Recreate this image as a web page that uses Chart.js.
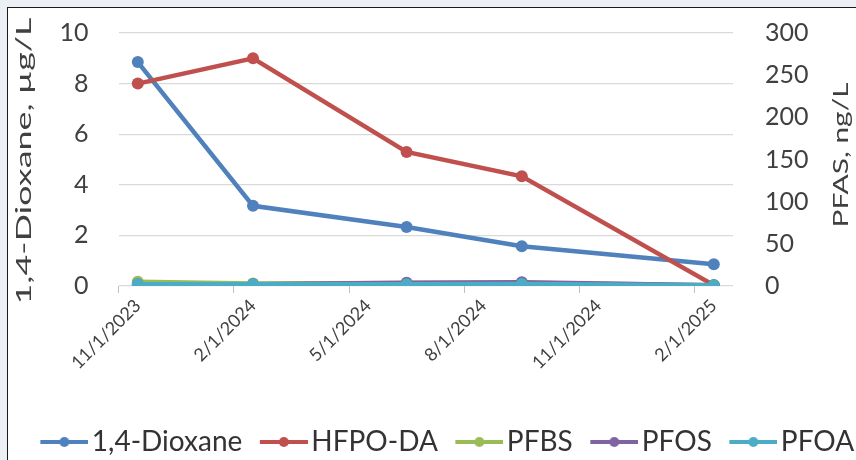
<!DOCTYPE html>
<html>
<head>
<meta charset="utf-8">
<script src="https://cdn.jsdelivr.net/npm/chart.js@4.4.1/dist/chart.umd.min.js"></script>
<style>
  html, body { margin: 0; padding: 0; width: 856px; height: 460px; overflow: hidden; background: #eceff3; }
  #frame { position: absolute; left: 7px; top: 7px; width: 900px; height: 500px; background: #fff; border: 1px solid #1a1a1a; }
  #c { position: absolute; left: 0; top: -14px; }
</style>
</head>
<body>
<div id="frame"></div>
<canvas id="c" width="887" height="480"></canvas>
<script>
// sampling dates (first of month, as the chart's month axis shows them)
const sampleDates = ['11/1/2023', '2/1/2024', '6/1/2024', '9/1/2024', '2/1/2025'];

// 1,4-Dioxane in ug/L (left axis)
const dioxane = [8.85, 3.17, 2.33, 1.57, 0.86];
// PFAS in ng/L (right axis)
const hfpoDa = [240, 270, 159, 130, 1];
const pfbs = [5, 3, 3.5, 4, 1];
const pfos = [2, 2, 4, 4.5, 1];
const pfoa = [2, 2, 2, 2.5, 1];

const tickLabels = ['11/1/2023', '2/1/2024', '5/1/2024', '8/1/2024', '11/1/2024', '2/1/2025'];
const leftTitle = '1,4-Dioxane, µg/L';
const rightTitle = 'PFAS, ng/L';

// month axis, Nov 2023 .. Feb 2025
const months = [];
for (let y = 2023, m = 10; y < 2025 || m <= 1; m++) {
    if (m === 12) { m = 0; y++; }
    if (y === 2025 && m > 1) break;
    months.push((m + 1) + '/1/' + y);
}

const colors = ['#4F81BD', '#C0504D', '#9BBB59', '#8064A2', '#4BACC6'];
const names = ['1,4-Dioxane', 'HFPO-DA', 'PFBS', 'PFOS', 'PFOA'];
const values = [dioxane, hfpoDa, pfbs, pfos, pfoa];

// canvas sits 14px above the window
const shift = 14;

function legendMarker(color) {
    const c = document.createElement('canvas');
    c.width = 66; c.height = 14;
    const g = c.getContext('2d');
    g.strokeStyle = color; g.lineWidth = 4;
    g.beginPath(); g.moveTo(18, 7); g.lineTo(66, 7); g.stroke();
    g.fillStyle = color;
    g.beginPath(); g.arc(42, 7, 5, 0, Math.PI * 2); g.fill();
    return c;
}
const markers = colors.map(legendMarker);

const datasets = names.map((name, i) => ({
    label: name,
    data: sampleDates.map((d, k) => ({ x: d, y: values[i][k] })),
    yAxisID: i === 0 ? 'y' : 'y1',
    borderColor: colors[i],
    backgroundColor: colors[i],
    borderWidth: 4.5,
    pointRadius: 6,
    pointBorderWidth: 0,
    pointBackgroundColor: colors[i],
    spanGaps: true,
    order: names.length - 1 - i
}));

function drawTitle(ctx, text, x, y, len) {
    ctx.save();
    ctx.font = '21px Lato';
    ctx.fillStyle = '#404040';
    ctx.translate(x, y + shift);
    ctx.rotate(-Math.PI / 2);
    const w = ctx.measureText(text).width;
    ctx.scale(len / w, 1);
    ctx.textAlign = 'center';
    ctx.textBaseline = 'alphabetic';
    ctx.fillText(text, 0, 0);
    ctx.restore();
}

const axisTitles = {
    id: 'axisTitles',
    afterDraw(chart) {
        drawTitle(chart.ctx, leftTitle, 31, 161, 287);
        drawTitle(chart.ctx, rightTitle, 848, 155, 145);
    }
};

const tickFont = { family: 'Lato', size: 25 };

new Chart(document.getElementById('c'), {
    type: 'line',
    data: { labels: months, datasets: datasets },
    plugins: [axisTitles],
    options: {
        responsive: false,
        animation: false,
        devicePixelRatio: 1,
        layout: { padding: { top: 18, left: 0, right: 0, bottom: 0 } },
        plugins: {
            tooltip: { enabled: false },
            legend: {
                position: 'bottom',
                labels: {
                    usePointStyle: true,
                    pointStyleWidth: 45,
                    padding: 10,
                    color: '#333333',
                    font: { family: 'Lato', size: 28 },
                    sort: (a, b) => a.datasetIndex - b.datasetIndex,
                    generateLabels(chart) {
                        const items = Chart.defaults.plugins.legend.labels.generateLabels(chart);
                        items.forEach(it => { it.pointStyle = markers[it.datasetIndex]; });
                        return items;
                    }
                }
            }
        },
        scales: {
            x: {
                type: 'category',
                offset: true,
                border: { display: false },
                grid: {
                    offset: true,
                    drawOnChartArea: false,
                    drawTicks: true,
                    tickLength: 7,
                    color: ctx => (ctx.index % 3 === 0 ? '#bfbfbf' : 'rgba(0,0,0,0)')
                },
                ticks: {
                    autoSkip: false,
                    maxRotation: 45,
                    minRotation: 45,
                    padding: 2,
                    color: '#404040',
                    font: { family: 'Lato', size: 18 },
                    callback(val) {
                        const lbl = this.getLabelForValue(val);
                        return tickLabels.includes(lbl) ? lbl : '';
                    }
                },
                afterFit(s) { s.height = s.chart.height - (286 + shift) - s.chart.legend.height; }
            },
            y: {
                position: 'left',
                min: 0, max: 10,
                border: { display: false },
                grid: { color: '#d9d9d9', lineWidth: 1.3, drawTicks: false },
                ticks: { stepSize: 2, padding: 30, color: '#404040', font: tickFont },
                afterFit(s) { s.width = 118.6; }
            },
            y1: {
                position: 'right',
                min: 0, max: 300,
                border: { display: false },
                grid: { display: false, drawOnChartArea: false, drawTicks: false },
                ticks: { stepSize: 50, padding: 32, color: '#404040', font: tickFont },
                afterFit(s) { s.width = 887 - 733; }
            }
        }
    }
});
</script>
</body>
</html>
